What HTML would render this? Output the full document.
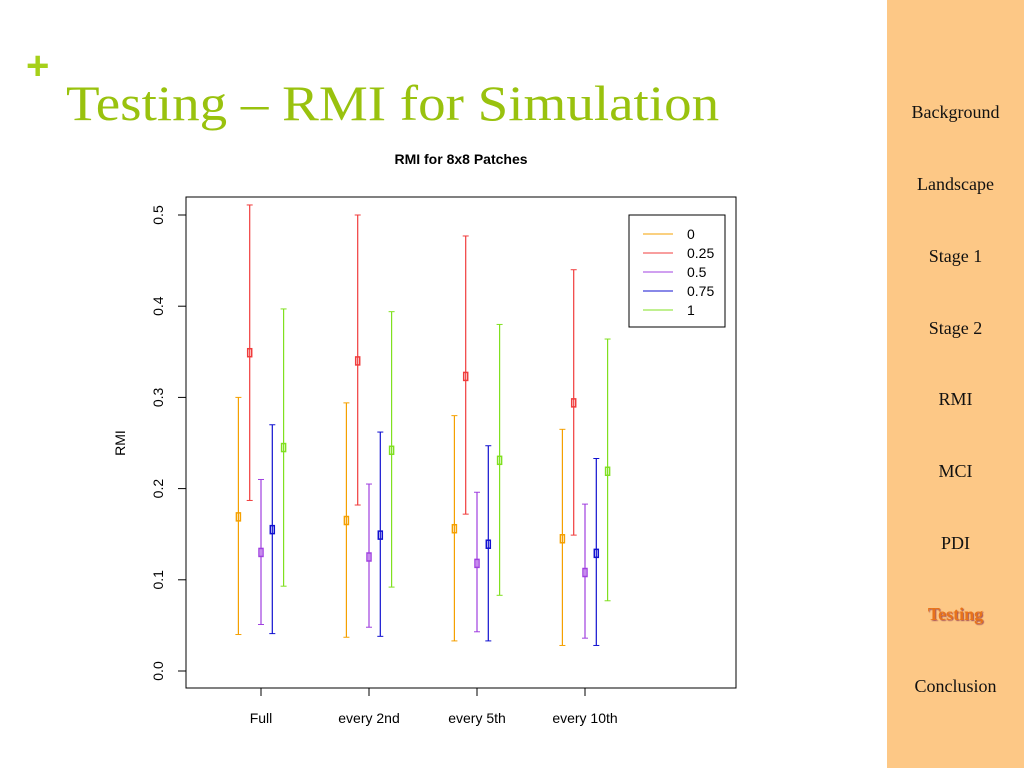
<!DOCTYPE html>
<html><head><meta charset="utf-8"><style>
body{margin:0;width:1024px;height:768px;background:#fff;position:relative;overflow:hidden;font-family:"Liberation Sans",sans-serif}
#side{position:absolute;left:887px;top:0;width:137px;height:768px;background:#fdc886}
.nav{position:absolute;left:887px;width:137px;text-align:center;font-family:"Liberation Serif",serif;font-size:18px;color:#111}
#title{position:absolute;left:66px;top:74px;font-family:"Liberation Serif",serif;font-size:50px;color:#99c20e;transform:scaleX(1.1);transform-origin:0 0;white-space:nowrap}
#plus{position:absolute;left:26px;top:44px;font-size:40px;font-weight:bold;color:#a6d01a}
</style></head><body>
<div id="side"></div>
<div id="plus">+</div>
<div id="title">Testing – RMI for Simulation</div>
<div class="nav" style="top:102px">Background</div>
<div class="nav" style="top:174px">Landscape</div>
<div class="nav" style="top:246px">Stage 1</div>
<div class="nav" style="top:318px">Stage 2</div>
<div class="nav" style="top:389px">RMI</div>
<div class="nav" style="top:461px">MCI</div>
<div class="nav" style="top:533px">PDI</div>
<div class="nav" style="top:604px;color:#e8731a;font-weight:bold;text-shadow:1px 1px 1px #a55">Testing</div>
<div class="nav" style="top:676px">Conclusion</div>
<svg id="chart" width="1024" height="768" style="position:absolute;left:0;top:0"></svg>
<script>
const categories=["Full","every 2nd","every 5th","every 10th"];
const seriesNames=["0","0.25","0.5","0.75","1"];
const colors=["#f5a000","#f03c3c","#a040e0","#1010d0","#80e020"];
const means=[[0.169,0.165,0.156,0.145],[0.349,0.34,0.323,0.294],[0.13,0.125,0.118,0.108],[0.155,0.149,0.139,0.129],[0.245,0.242,0.231,0.219]];
const highs=[[0.30,0.294,0.28,0.265],[0.511,0.50,0.477,0.44],[0.21,0.205,0.196,0.183],[0.27,0.262,0.247,0.233],[0.397,0.394,0.38,0.364]];
const lows=[[0.04,0.037,0.033,0.028],[0.187,0.182,0.172,0.149],[0.051,0.048,0.043,0.036],[0.041,0.038,0.033,0.028],[0.093,0.092,0.083,0.077]];
const yTicks=["0.0","0.1","0.2","0.3","0.4","0.5"];
const svg=document.getElementById('chart');const NS="http://www.w3.org/2000/svg";
function y(v){return 671-v*912}
function x(i,s){return 261+i*108+(s-2)*11.3}
function mk(t,a,txt){const e=document.createElementNS(NS,t);for(const k in a)e.setAttribute(k,a[k]);if(txt!==undefined)e.textContent=txt;svg.appendChild(e);return e}
let e=mk('rect',{x:186,y:197,width:550,height:491,fill:'none',stroke:'#000'});


e=mk('text',{x:461,y:164,'text-anchor':'middle','font-size':14,'font-weight':'bold'},'RMI for 8x8 Patches');


e=mk('text',{x:125,y:443,'text-anchor':'middle','font-size':14,transform:'rotate(-90 125 443)'},'RMI');


mk('line',{x1:186,x2:186,y1:y(0),y2:y(0.5),stroke:'#000'});
yTicks.forEach((t,i)=>{const v=parseFloat(t);mk('line',{x1:178,x2:186,y1:y(v),y2:y(v),stroke:'#000'});
e=mk('text',{x:163,y:y(v),'text-anchor':'middle','font-size':14,transform:`rotate(-90 163 ${y(v)})`},t);

});
mk('line',{x1:261,x2:585,y1:688,y2:688,stroke:'#000'});
categories.forEach((c,i)=>{const cx=261+i*108;mk('line',{x1:cx,x2:cx,y1:688,y2:696,stroke:'#000'});
e=mk('text',{x:cx,y:723,'text-anchor':'middle','font-size':14},c);

});
for(let s=0;s<5;s++)for(let i=0;i<4;i++){const cx=x(i,s);
mk('line',{x1:cx,x2:cx,y1:y(highs[s][i]),y2:y(lows[s][i]),stroke:colors[s],'stroke-width':1.2});
mk('line',{x1:cx-3,x2:cx+3,y1:y(highs[s][i]),y2:y(highs[s][i]),stroke:colors[s]});
mk('line',{x1:cx-3,x2:cx+3,y1:y(lows[s][i]),y2:y(lows[s][i]),stroke:colors[s]});
e=mk('rect',{x:cx-2,y:y(means[s][i])-4,width:4,height:8,fill:'none',stroke:colors[s],'stroke-width':1.5});

}
e=mk('rect',{x:629,y:215,width:96,height:112,fill:'#fff',stroke:'#000'});


seriesNames.forEach((n,s)=>{const ly=234+s*19;mk('line',{x1:643,x2:673,y1:ly,y2:ly,stroke:colors[s]});
e=mk('text',{x:687,y:ly+5,'font-size':14},n);

});
</script>
</body></html>
